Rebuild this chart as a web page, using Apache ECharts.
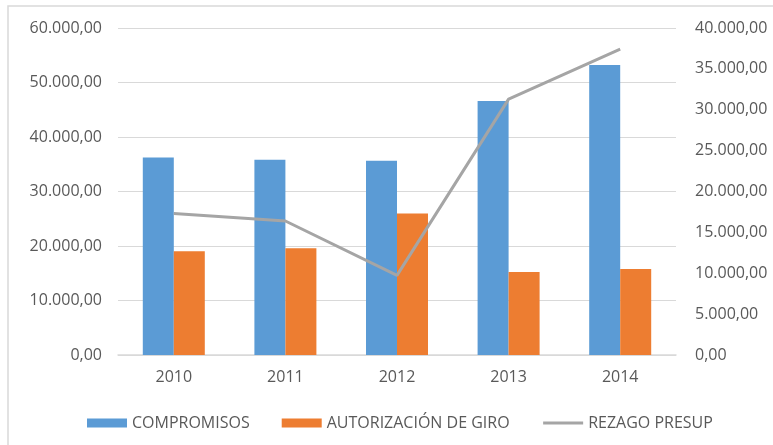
<!DOCTYPE html>
<html>
<head>
<meta charset="utf-8">
<script src="https://cdn.jsdelivr.net/npm/echarts@6/dist/echarts.min.js"></script>
<style>
  html, body { margin: 0; padding: 0; background: #fff; }
  #main { width: 773px; height: 445px; }
</style>
</head>
<body>
<div id="main"></div>
<script>
// datos
const years = ["2010", "2011", "2012", "2013", "2014"];
const compromisos = [36250, 35810, 35630, 46600, 53220];
const autorizacionGiro = [19030, 19580, 25960, 15220, 15770];
const rezagoPresup = [17300, 16390, 9740, 31300, 37430];

function fmt(v) {
  // formato 60.000,00
  const s = Math.round(v).toString().replace(/\B(?=(\d{3})+(?!\d))/g, ".");
  return s + ",00";
}

const myChart = echarts.init(document.getElementById("main"));
const font = "'Open Sans', 'Noto Sans', sans-serif";

myChart.setOption({
  animation: false,
  textStyle: { fontFamily: font },
  graphic: [
    {
      type: "rect",
      shape: { x: 8, y: 6, width: 780, height: 460 },
      style: { fill: "none", stroke: "#D9D9D9", lineWidth: 1.5 },
      silent: true,
    },
  ],
  grid: {
    left: 118,
    right: 97,
    top: 28,
    bottom: 90,
  },
  legend: {
    top: 410,
    left: 82,
    itemWidth: 40,
    itemHeight: 9,
    itemGap: 32,
    textStyle: { color: "#595959", fontSize: 16, fontFamily: font },
    data: [
      { name: "COMPROMISOS", icon: "rect" },
      { name: "AUTORIZACIÓN DE GIRO", icon: "rect" },
      {
        name: "REZAGO PRESUP",
        itemStyle: { opacity: 0 },
        lineStyle: { color: "#A5A5A5", width: 3 },
      },
    ],
  },
  xAxis: {
    type: "category",
    data: years,
    axisTick: { show: false },
    axisLine: { lineStyle: { color: "#D9D9D9", width: 1.5 } },
    axisLabel: { color: "#595959", fontSize: 16, margin: 14 },
  },
  yAxis: [
    {
      type: "value",
      min: 0,
      max: 60000,
      interval: 10000,
      axisLine: { show: false },
      axisTick: { show: false },
      splitLine: { lineStyle: { color: "#D9D9D9", width: 1 } },
      axisLabel: {
        color: "#595959",
        fontSize: 16,
        margin: 16,
        formatter: fmt,
      },
    },
    {
      type: "value",
      min: 0,
      max: 40000,
      interval: 5000,
      axisLine: { show: false },
      axisTick: { show: false },
      splitLine: { show: false },
      axisLabel: {
        color: "#595959",
        fontSize: 16,
        margin: 19,
        formatter: fmt,
      },
    },
  ],
  series: [
    {
      name: "COMPROMISOS",
      type: "bar",
      barWidth: 31,
      barGap: "0%",
      itemStyle: { color: "#5B9BD5" },
      data: compromisos,
    },
    {
      name: "AUTORIZACIÓN DE GIRO",
      type: "bar",
      barWidth: 31,
      itemStyle: { color: "#ED7D31" },
      data: autorizacionGiro,
    },
    {
      name: "REZAGO PRESUP",
      type: "line",
      yAxisIndex: 1,
      symbol: "none",
      lineStyle: { color: "#A5A5A5", width: 3 },
      itemStyle: { color: "#A5A5A5" },
      data: rezagoPresup,
    },
  ],
});

window.addEventListener("resize", function () {
  myChart.resize();
});
</script>
</body>
</html>
